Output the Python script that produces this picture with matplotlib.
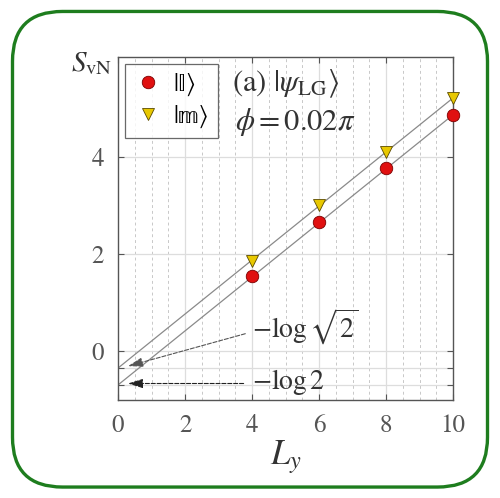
import numpy as np
import matplotlib
matplotlib.use('Agg')
import matplotlib.pyplot as plt
from matplotlib.patches import FancyBboxPatch

plt.rcParams['font.family'] = ['STIXGeneral', 'DejaVu Sans']
plt.rcParams['mathtext.fontset'] = 'stix'

# entanglement entropy vs system width
Ly = [4, 6, 8, 10]
S_I = [1.54, 2.65, 3.77, 4.86]
S_m = [1.86, 3.00, 4.09, 5.20]

# linear fits: S = slope*Ly - gamma
slope = 0.555
gamma_I = np.log(2)
gamma_m = np.log(np.sqrt(2))

fig = plt.figure(figsize=(5, 4.98), dpi=100)

# rounded green frame
frame = FancyBboxPatch((0.025, 0.022), 0.95, 0.955, boxstyle='round,pad=0,rounding_size=0.1',
                       transform=fig.transFigure, facecolor='none', edgecolor='#1e7d1e',
                       linewidth=2.4, zorder=5)
fig.patches.append(frame)

ax = fig.add_axes([0.236, 0.197, 0.67, 0.689])
ax.set_xlim(0, 10)
ax.set_ylim(-1, 6.05)

# grid: solid at majors, dashed at half-steps
for xv in np.arange(0.5, 10, 0.5):
    if xv % 2 == 0:
        ax.axvline(xv, color='#dddddd', lw=0.9, zorder=0)
    else:
        ax.axvline(xv, color='#c8c8c8', lw=0.7, ls=(0, (3, 3)), zorder=0)
for yv in [0, 2, 4, -gamma_m, -gamma_I]:
    ax.axhline(yv, color='#dddddd', lw=0.9, zorder=0)

xx = np.array([0, 10])
ax.plot(xx, slope * xx - gamma_I, color='#8a8a8a', lw=0.9, zorder=1)
ax.plot(xx, slope * xx - gamma_m, color='#8a8a8a', lw=0.9, zorder=1)

ax.plot(Ly, S_I, 'o', color='#e01010', mec='#7a0000', mew=0.6, ms=9,
        label='|\U0001D540\u27E9', zorder=3, clip_on=False)
ax.plot(Ly, S_m, 'v', color='#e8c800', mec='#5a4a00', mew=0.6, ms=9,
        label='|\U0001D55E\u27E9', zorder=3, clip_on=False)

# arrows to the intercepts
arrow = '-|>,head_length=0.9,head_width=0.28'
ax.annotate('', xy=(0.3, -gamma_m + 0.04), xytext=(3.8, 0.36),
            arrowprops=dict(arrowstyle=arrow, color='#555555',
                            lw=0.8, ls='--', shrinkA=0, shrinkB=0))
ax.annotate('', xy=(0.3, -gamma_I + 0.03), xytext=(3.75, -gamma_I + 0.03),
            arrowprops=dict(arrowstyle=arrow, color='#222222',
                            lw=0.8, ls='--', shrinkA=0, shrinkB=0))
ax.text(4.0, 0.5, r'$-\log\sqrt{2}$', fontsize=20, color='#333333', va='center', ha='left')
ax.text(4.0, -0.64, r'$-\log 2$', fontsize=20, color='#333333', va='center', ha='left')

ax.text(3.4, 5.5, r'(a) $|\psi_{\rm LG}\rangle$', fontsize=22, color='#333333', va='center')
ax.text(3.5, 4.7, r'$\phi = 0.02\pi$', fontsize=22, color='#333333', va='center')

ax.set_xticks([0, 2, 4, 6, 8, 10])
ax.set_yticks([-gamma_I, -gamma_m, 0, 2, 4])
ax.set_yticklabels(['', '', '0', '2', '4'])
ax.tick_params(direction='in', length=4, width=0.8, colors='#555555', labelsize=18,
               labelcolor='#555555', top=True, right=True, pad=10)
for sp in ax.spines.values():
    sp.set_color('#555555')
    sp.set_linewidth(1.0)

ax.set_xlabel(r'$L_y$', fontsize=25, color='#333333', labelpad=0)
ax.text(-0.08, 0.98, r'$S_{\rm vN}$', transform=ax.transAxes, fontsize=21,
        color='#333333', ha='center', va='center')

leg = ax.legend(loc='upper left', fontsize=18, frameon=True, fancybox=False,
                edgecolor='#444444', handletextpad=0.4, borderpad=0.35, labelspacing=0.35,
                bbox_to_anchor=(0.02, 0.98), borderaxespad=0, handlelength=1.2)
leg.get_frame().set_linewidth(0.9)

fig.savefig('out.png', dpi=100)
